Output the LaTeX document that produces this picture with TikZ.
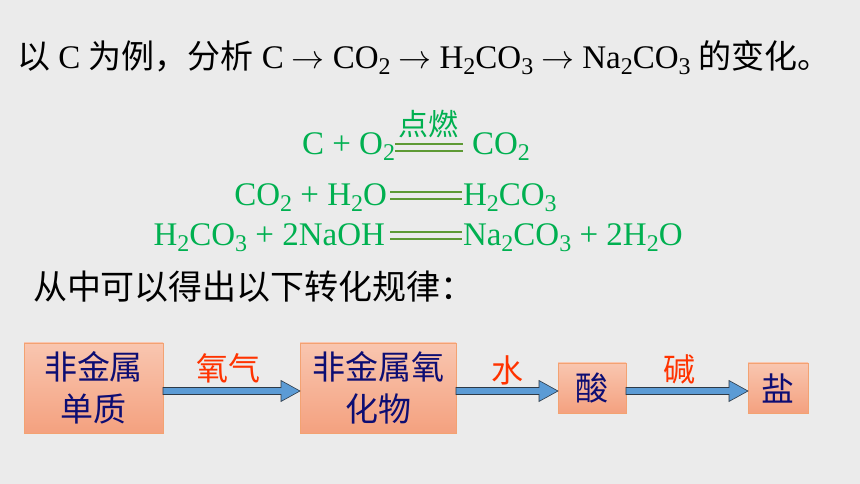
\RequirePackage{fix-cm}
\documentclass[tikz,border=0pt]{standalone}
\usepackage{fontspec}
\setmainfont{Liberation Serif}
\newfontfamily\cjk{Noto Sans CJK SC}
\usetikzlibrary{calc}

\definecolor{bg}{HTML}{EBEBEB}
\definecolor{eqgreen}{HTML}{00B050}
\definecolor{eqline}{HTML}{5E9A35}
\definecolor{boxtop}{HTML}{F9C6B0}
\definecolor{boxbot}{HTML}{F4A17F}
\definecolor{boxline}{HTML}{F3A272}
\definecolor{navy}{HTML}{0D0D73}
\definecolor{lblred}{HTML}{FF3300}
\definecolor{arrowfill}{HTML}{5B9BD5}
\definecolor{arrowline}{HTML}{2E3A46}

\newcommand{\dn}[1]{\raisebox{-6pt}{\fontsize{24}{24}\selectfont #1}}
\newcommand{\cn}{\cjk\fontsize{33}{33}\selectfont}
\newcommand{\ra}{\kern8pt\(\rightarrow\)\kern8pt}
\newcommand{\barrow}[2]{%
  \path[blockarrow] let \p1=(#1.east), \p2=(#2.west) in
    (\x1,\y1-6.5) -- (\x2-19,\y1-6.5) -- (\x2-19,\y1-13.5) -- (\x2,\y1-3)
    -- (\x2-19,\y1+7.5) -- (\x2-19,\y1+0.5) -- (\x1,\y1+0.5) -- cycle;}

\begin{document}
\begin{tikzpicture}[x=1pt,y=1pt,
  every node/.style={inner sep=0pt, outer sep=0pt},
  eq/.style={text=eqgreen, font=\fontsize{33}{33}\selectfont},
  eqbar/.style={draw=eqline, line width=2.5pt},
  flowbox/.style={draw=boxline, line width=0.8pt, top color=boxtop, bottom color=boxbot,
    text=navy, font=\cjk\fontsize{33}{42}\selectfont, align=center},
  lbl/.style={text=lblred, font=\cjk\fontsize{32}{32}\selectfont},
  blockarrow/.style={fill=arrowfill, draw=arrowline, line width=0.6pt, line join=miter}
]
\fill[bg] (0,0) rectangle (860,484);
\useasboundingbox (0,0) rectangle (860,484);

% title line
\node[anchor=base west, font=\fontsize{33}{33}\selectfont] (title) at (17,415.5)
  {{\cn 以} C {\cn 为例，分析} C\ra CO\dn{2}\ra H\dn{2}CO\dn{3}\ra Na\dn{2}CO\dn{3} {\cn 的变化。}};

% equations
\node[eq, anchor=base east] (l1) at (395,329) {C + O\dn{2}};
\node[eq, anchor=base west] (r1) at (472,329) {CO\dn{2}};
\node[text=eqgreen, font=\cjk\fontsize{30}{30}\selectfont] (fire) at (428,359.5) {点燃};
\draw[eqbar] (395,340) -- (463,340);
\draw[eqbar] (395,333) -- (463,333);

\node[eq, anchor=base east] (l2) at (387,278) {CO\dn{2} + H\dn{2}O};
\node[eq, anchor=base west] (r2) at (463,278) {H\dn{2}CO\dn{3}};
\draw[eqbar] (390,292) -- (462,292);
\draw[eqbar] (390,285) -- (462,285);

\node[eq, anchor=base east] (l3) at (385,238) {H\dn{2}CO\dn{3} + 2NaOH};
\node[eq, anchor=base west] (r3) at (463,238) {Na\dn{2}CO\dn{3} + 2H\dn{2}O};
\draw[eqbar] (390,252) -- (462,252);
\draw[eqbar] (390,245) -- (462,245);

% rule text
\node[anchor=west, font=\cjk\fontsize{34}{34}\selectfont] (rule) at (33,197) {从中可以得出以下转化规律：};

% flow boxes
\node[flowbox, minimum width=139pt, minimum height=90pt] (b1) at (93.5,96) {非金属\\单质};
\node[flowbox, minimum width=156pt, minimum height=90pt] (b2) at (378,96) {非金属氧\\化物};
\node[flowbox, minimum width=68pt, minimum height=50pt] (b3) at (592,96) {酸};
\node[flowbox, minimum width=60pt, minimum height=50pt] (b4) at (778,96) {盐};

% arrows
\barrow{b1}{b2}
\barrow{b2}{b3}
\barrow{b3}{b4}

% arrow labels
\node[lbl] (o2) at (228,116) {氧气};
\node[lbl] (water) at (507,114) {水};
\node[lbl] (base) at (679,115) {碱};
\end{tikzpicture}
\end{document}
